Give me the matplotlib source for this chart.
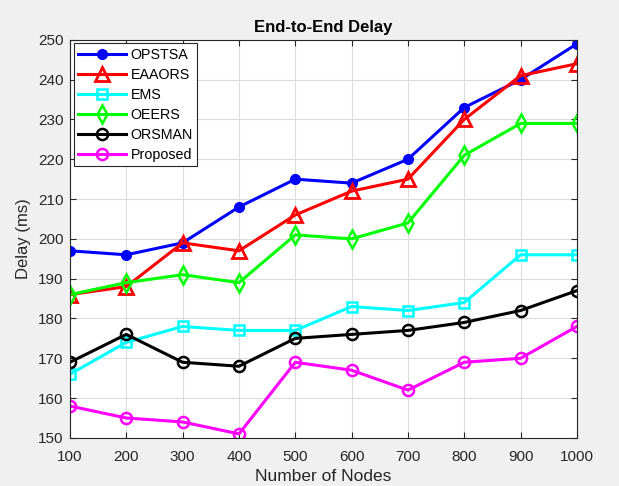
import matplotlib
matplotlib.use("Agg")
import matplotlib.pyplot as plt

plt.rcParams['font.family'] = ['Liberation Sans', 'DejaVu Sans']

nodes = [100, 200, 300, 400, 500, 600, 700, 800, 900, 1000]
opstsa = [197, 196, 199, 208, 215, 214, 220, 233, 240, 249]
eaaors = [186, 188, 199, 197, 206, 212, 215, 230, 241, 244]
ems = [166, 174, 178, 177, 177, 183, 182, 184, 196, 196]
oeers = [186, 189, 191, 189, 201, 200, 204, 221, 229, 229]
orsman = [169, 176, 169, 168, 175, 176, 177, 179, 182, 187]
proposed = [158, 155, 154, 151, 169, 167, 162, 169, 170, 178]
yticks = [150, 160, 170, 180, 190, 200, 210, 220, 230, 240, 250]

fig = plt.figure(figsize=(6.19, 4.86), dpi=100, facecolor='#f0f0f0')
ax = fig.add_axes([0.113, 0.099, 0.819, 0.819])
ax.set_facecolor('white')

lw = 2.2
ax.plot(nodes, opstsa, color='#0000ff', lw=lw, marker='o', ms=7, mfc='#0000ff', mec='#0000ff', label='OPSTSA')
ax.plot(nodes, eaaors, color='#ff0000', lw=lw, marker='^', ms=10, mfc='none', mec='#ff0000', mew=2.0, label='EAAORS')
ax.plot(nodes, ems, color='#00ffff', lw=lw, marker='s', ms=6.5, mfc='none', mec='#00ffff', mew=1.8, label='EMS')
ax.plot(nodes, oeers, color='#00ff00', lw=lw, marker='d', ms=9, mfc='none', mec='#00ff00', mew=1.8, label='OEERS')
ax.plot(nodes, orsman, color='#000000', lw=lw, marker='o', ms=8, mfc='none', mec='#000000', mew=1.8, label='ORSMAN')
ax.plot(nodes, proposed, color='#ff00ff', lw=lw, marker='o', ms=8, mfc='none', mec='#ff00ff', mew=1.8, label='Proposed')

ax.set_xlim(100, 1000)
ax.set_ylim(150, 250)
ax.set_xticks(nodes)
ax.set_yticks(yticks)
ax.tick_params(labelsize=11, direction='in', length=4, colors='#262626', top=True, right=True)
ax.tick_params(axis='x', pad=8.5)
ax.tick_params(axis='y', pad=4.5)
ax.grid(True, color='#dcdcdc', lw=0.8)
ax.set_axisbelow(True)
for s in ax.spines.values():
    s.set_color('#262626')
    s.set_linewidth(0.8)

ax.set_title('End-to-End Delay', fontsize=12, fontweight='bold', pad=6)
ax.set_xlabel('Number of Nodes', fontsize=12.5, color='#262626', labelpad=4)
ax.set_ylabel('Delay (ms)', fontsize=12, color='#262626', labelpad=5)

leg = ax.legend(loc='upper left', fontsize=10.3, frameon=True, fancybox=False,
                edgecolor='#262626', framealpha=1, handlelength=3.4,
                labelspacing=0.42, borderpad=0.3, handletextpad=0.3,
                borderaxespad=0.25)
leg.get_frame().set_linewidth(0.8)

fig.savefig('out.png', dpi=100, facecolor=fig.get_facecolor())
